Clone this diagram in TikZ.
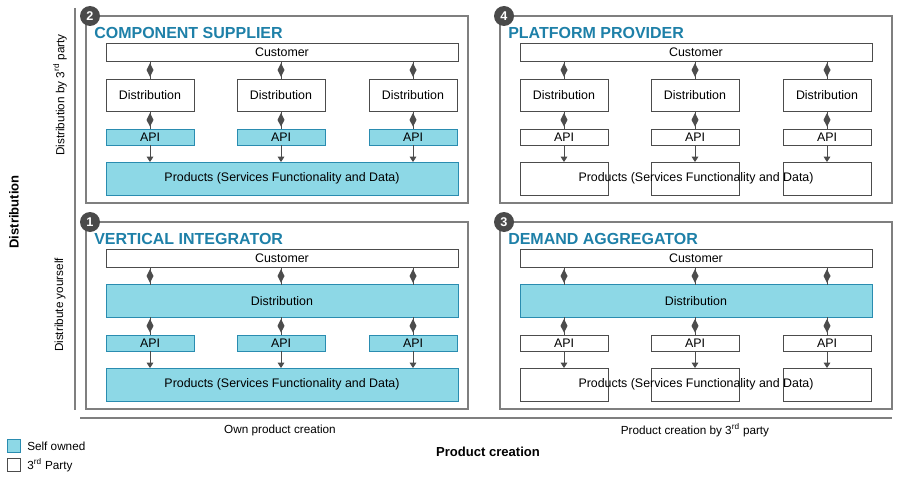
\documentclass[tikz,border=0pt]{standalone}
\usepackage{fontspec}
\setmainfont{Liberation Sans}
\usetikzlibrary{positioning,shapes.geometric}
\usetikzlibrary {arrows.meta}
\definecolor{ownfill}{HTML}{8DD8E6}
\definecolor{owndraw}{HTML}{2A8CB0}
\definecolor{titleblue}{HTML}{1E80A8}
\definecolor{badgegray}{HTML}{4A4A4A}
\definecolor{framegray}{HTML}{7F7F7F}
\tikzset{thirdbox/.style={rectangle,draw=black!70,fill=white,line width=0.5pt,
inner sep=0pt,font=\fontsize{9.3}{10}\selectfont}}
\tikzset{ownbox/.style={thirdbox,draw=owndraw,fill=ownfill}}
\tikzset{quadrant/.style={rectangle,draw=framegray,line width=0.8pt}}
\tikzset{badge/.style={circle,fill=badgegray,text=white,inner sep=0pt,
minimum size=15pt,font=\bfseries\fontsize{9.5}{10}\selectfont}}
\tikzset{qtitle/.style={anchor=west,text=titleblue,inner sep=0pt,
font=\bfseries\fontsize{12}{13}\selectfont}}
\tikzset{dia/.style={diamond,fill=black!70,inner sep=0pt,minimum width=5.5pt,
minimum height=10.5pt}}
\tikzset{axislabel/.style={font=\fontsize{8.8}{10}\selectfont,inner sep=0pt}}

\begin{document}
\begin{tikzpicture}[x=0.75pt,y=-0.75pt]
    \useasboundingbox (0,0) rectangle (902,485);

    % axes
    \draw[framegray,line width=0.8pt] (75,8) -- (75,410);
    \draw[framegray,line width=0.8pt] (80,418) -- (892,418);
    \node[axislabel,rotate=90,font=\bfseries\fontsize{9.8}{10}\selectfont] (axisY) at (14,212) {Distribution};
    \node[axislabel,rotate=90] (distThird) at (60,95) {Distribution by 3\textsuperscript{rd} party};
    \node[axislabel,rotate=90] (distSelf) at (60,305) {Distribute yourself};
    \node[axislabel] (ownCreation) at (280,430) {Own product creation};
    \node[axislabel] (thirdCreation) at (695,430) {Product creation by 3\textsuperscript{rd} party};
    \node[axislabel,font=\bfseries\fontsize{9.8}{10}\selectfont] (axisX) at (488,452) {Product creation};

    % legend
    \node[ownbox,minimum size=10pt] (legOwn) at (14,446) {};
    \node[axislabel,anchor=west] (legOwnT) at (27,446) {Self owned};
    \node[thirdbox,minimum size=10pt] (legThird) at (14,465) {};
    \node[axislabel,anchor=west] (legThirdT) at (27,465) {3\textsuperscript{rd} Party};

    % quadrants: x offset, y offset, right edge, number, title, own distribution, own products
    \foreach \qx/\qy/\qr/\num/\title/\qname/\distown/\prodown in
        {0/0/468/2/COMPONENT SUPPLIER/qa/0/1,
         414/0/478/4/PLATFORM PROVIDER/qb/0/0,
         0/206/468/1/VERTICAL INTEGRATOR/qc/1/1,
         414/206/478/3/DEMAND AGGREGATOR/qd/1/0}{
      \begin{scope}[shift={(\qx,\qy)}]
        \draw[quadrant] (86,16) rectangle (\qr,203);
        \node[badge] (\qname num) at (90,16) {\num};
        \node[qtitle] (\qname title) at (94,33) {\title};
        \node[thirdbox,minimum width=264pt,minimum height=13.5pt] (\qname cust) at (282,52) {Customer};
        % products
        \ifnum\prodown=1
          \node[ownbox,minimum width=264pt,minimum height=24.75pt] (\qname prod) at (282,178.5) {Products (Services Functionality and Data)};
        \else
          \foreach \cx/\k in {150/1,281/2,413/3}
            \node[thirdbox,minimum width=66pt,minimum height=24.75pt] (\qname prod\k) at (\cx,178.5) {};
          \node[font=\fontsize{9.3}{10}\selectfont,inner sep=0pt] (\qname prod) at (282,178.5) {Products (Services Functionality and Data)};
        \fi
        % distribution
        \ifnum\distown=1
          \node[ownbox,minimum width=264pt,minimum height=24.75pt] (\qname dist) at (282,95) {Distribution};
        \fi
        \foreach \cx/\k in {150/1,281/2,413/3}{
          \ifnum\distown=0
            \node[thirdbox,minimum width=66pt,minimum height=24pt] (\qname dist\k) at (\cx,95) {Distribution};
          \fi
          \path (\cx,61) coordinate (\qname dt\k) (\cx,79) coordinate (\qname db\k)
                (\cx,111) coordinate (\qname ds\k);
          \ifnum\prodown=1
            \node[ownbox,minimum width=66pt,minimum height=12pt] (\qname api\k) at (\cx,137) {API};
          \else
            \node[thirdbox,minimum width=66pt,minimum height=12pt] (\qname api\k) at (\cx,137) {API};
          \fi
          \draw[black!70,line width=0.6pt] (\qname dt\k) -- node[dia] {} (\qname db\k);
          \draw[black!70,line width=0.6pt] (\qname ds\k) -- node[dia] {} (\qname api\k.north);
          \draw[black!70,line width=0.6pt,-{Triangle[length=4pt,width=5pt]}] (\qname api\k.south) -- (\cx,162);
        }
      \end{scope}
    }
\end{tikzpicture}
\end{document}
